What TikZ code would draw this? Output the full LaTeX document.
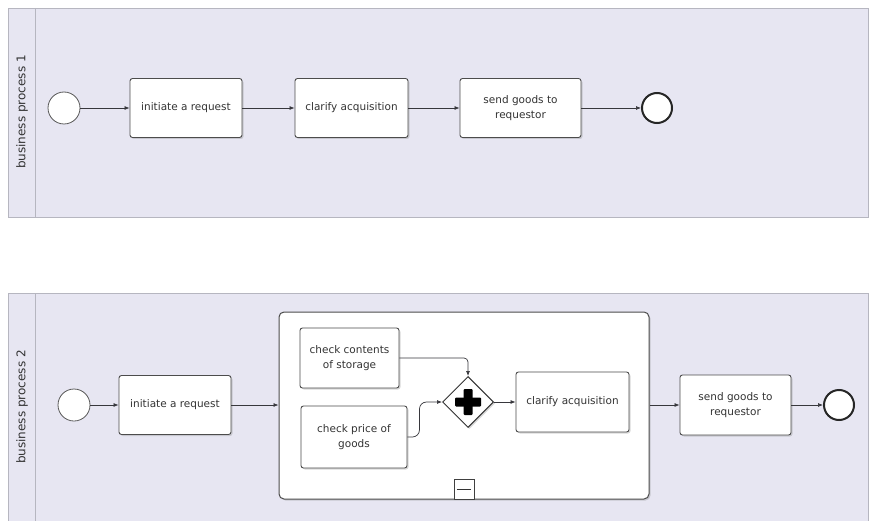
\documentclass[tikz,border=0pt]{standalone}
\usepackage{fontspec}
\setmainfont{DejaVu Sans}
\usetikzlibrary{shapes.geometric,arrows.meta,shadows}

\definecolor{poolfill}{RGB}{231,230,242}
\definecolor{poolline}{RGB}{182,182,192}
\definecolor{flowline}{RGB}{55,55,60}

\begin{document}
\begin{tikzpicture}[x=1pt,y=-1pt]
        \tikzstyle{every node}=[text=black!80, font=\fontsize{10.5}{15}\selectfont];
        \tikzstyle{pool}=[draw=poolline, fill=poolfill, line width=0.9pt];
        \tikzstyle{poollabel}=[rotate=90, font=\fontsize{12}{14}\selectfont];
        \tikzstyle{task}=[rectangle, rounded corners=2.5pt, draw=black!70, fill=white, line width=0.9pt, align=center, inner sep=2pt, drop shadow={shadow xshift=1.5pt, shadow yshift=-1.5pt, opacity=0.3}];
        \tikzstyle{startevent}=[circle, draw=black!65, fill=white, line width=0.8pt, minimum size=32pt, inner sep=0pt];
        \tikzstyle{endevent}=[circle, draw=black!85, fill=white, line width=2pt, minimum size=30pt, inner sep=0pt];
        \tikzstyle{flow}=[draw=flowline, line width=0.7pt, -{Latex[length=5pt,width=4pt]}];
        \useasboundingbox (0,0) rectangle (869,521);

        % business process 1
        \draw[pool] (8,8) rectangle (868,217);
        \draw[poolline, line width=0.9pt] (35,8) -- (35,217);
        \node (label1) [poollabel] at (22,112) {business process 1};
        \node (start1) [startevent] at (64,108) {};
        \node (init1) [task, minimum width=112pt, minimum height=59pt] at (186,108) {initiate a request};
        \node (clar1) [task, minimum width=113pt, minimum height=59pt] at (351.5,108) {clarify acquisition};
        \node (send1) [task, minimum width=121pt, minimum height=59pt] at (520.5,108) {send goods to\\requestor};
        \node (end1) [endevent] at (657,108) {};
        \draw[flow] (start1) -- (init1);
        \draw[flow] (init1) -- (clar1);
        \draw[flow] (clar1) -- (send1);
        \draw[flow] (send1) -- (end1);

        % business process 2
        \fill[poolfill] (8,293) rectangle (868,521);
        \draw[poolline, line width=0.9pt] (8,521) -- (8,293) -- (868,293) -- (868,521);
        \draw[poolline, line width=0.9pt] (35,293) -- (35,521);
        \node (label2) [poollabel] at (22,407) {business process 2};
        \node (start2) [startevent] at (74,405) {};
        \node (init2) [task, minimum width=112pt, minimum height=59pt] at (175,405) {initiate a request};
        \node (sub) [task, rounded corners=5pt, line width=1pt, minimum width=370pt, minimum height=187pt] at (464,405.5) {};
        \node (collapse) [draw=black!75, fill=white, line width=0.8pt, minimum width=20pt, minimum height=20pt, inner sep=0pt, anchor=south] at (sub.south) {};
        \draw[black!80, line width=1pt] ([xshift=3pt]collapse.west) -- ([xshift=-3pt]collapse.east);
        \node (store) [task, minimum width=99pt, minimum height=60pt] at (349.5,358) {check contents\\of storage};
        \node (price) [task, minimum width=106pt, minimum height=62pt] at (354,437) {check price of\\goods};
        \node (gate) [diamond, aspect=1, draw=black!80, fill=white, line width=1pt, minimum width=51pt, minimum height=51pt, inner sep=0pt, drop shadow={shadow xshift=1.5pt, shadow yshift=-1.5pt, opacity=0.3}] at (468,402) {};
        \fill[black, rounded corners=1pt] ([xshift=-13pt,yshift=-4.5pt]gate.center) rectangle ([xshift=13pt,yshift=4.5pt]gate.center);
        \fill[black, rounded corners=1pt] ([xshift=-4.5pt,yshift=-13pt]gate.center) rectangle ([xshift=4.5pt,yshift=13pt]gate.center);
        \node (clar2) [task, minimum width=113pt, minimum height=60pt] at (572.5,402) {clarify acquisition};
        \node (send2) [task, minimum width=111pt, minimum height=60pt] at (735.5,405) {send goods to\\requestor};
        \node (end2) [endevent] at (839,405) {};
        \draw[flow] (start2) -- (init2);
        \draw[flow] (init2) -- (init2 -| sub.west);
        \draw[flow, rounded corners=4pt] (store.east) -| (gate.north);
        \draw[flow, rounded corners=7pt] (price.east) -- ++(12,0) |- (gate.west);
        \draw[flow] (gate) -- (clar2);
        \draw[flow] (send2 -| sub.east) -- (send2);
        \draw[flow] (send2) -- (end2);
    \end{tikzpicture}
\end{document}
